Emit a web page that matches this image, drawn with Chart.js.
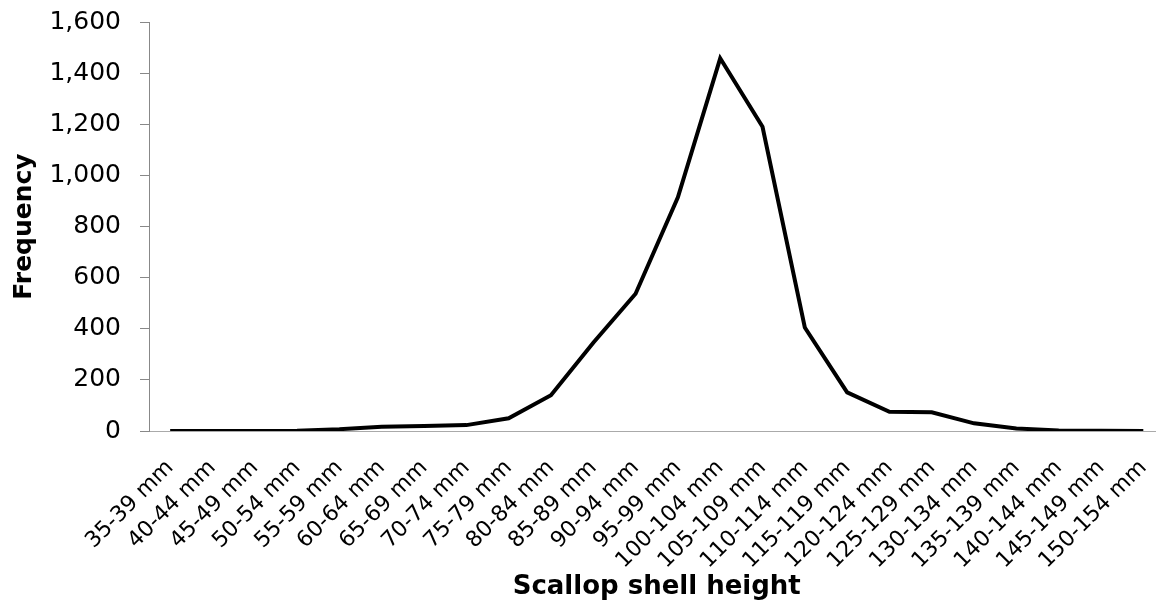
<!DOCTYPE html>
<html>
<head>
<meta charset="utf-8">
<title>Scallop shell height</title>
<script src="https://cdn.jsdelivr.net/npm/chart.js@4"></script>
<style>
    html, body { margin: 0; padding: 0; background: #fff; overflow: hidden; }
    /* canvas is a bit larger than the window, the plot bleeds off the right edge like the original */
    #wrap { width: 1186px; height: 619px; margin-top: -12px; }
</style>
</head>
<body>
<div id="wrap"><canvas id="freqChart" width="1186" height="619"></canvas></div>
<script>
// size classes (x axis)
const sizeClasses = [
    "35-39 mm", "40-44 mm", "45-49 mm", "50-54 mm", "55-59 mm", "60-64 mm",
    "65-69 mm", "70-74 mm", "75-79 mm", "80-84 mm", "85-89 mm", "90-94 mm",
    "95-99 mm", "100-104 mm", "105-109 mm", "110-114 mm", "115-119 mm", "120-124 mm",
    "125-129 mm", "130-134 mm", "135-139 mm", "140-144 mm", "145-149 mm", "150-154 mm"
];

// counts
const frequency = [
    0, 0, 0, 1, 7, 17,
    20, 23, 50, 140, 345, 537,
    914, 1458, 1190, 405, 151, 75,
    73, 30, 10, 2, 1, 0
];

const yMin = 0;
const yMax = 1600;
const yStep = 200;

const ctx = document.getElementById('freqChart').getContext('2d');
new Chart(ctx, {
    type: 'line',
    data: {
        labels: sizeClasses,
        datasets: [{
            label: 'Frequency',
            data: frequency,
            borderColor: '#000',
            borderWidth: 4,
            pointRadius: 0,
            tension: 0,
            fill: false
        }]
    },
    options: {
        responsive: false,
        devicePixelRatio: 1,
        animation: false,
        layout: { padding: { top: 9, right: 1, left: 0, bottom: 0 } },
        plugins: {
            legend: { display: false },
            tooltip: { enabled: false }
        },
        scales: {
            x: {
                offset: true,
                grid: { display: true, drawOnChartArea: false, drawTicks: false },
                border: { display: true, color: '#aaa', width: 1 },
                ticks: {
                    color: '#000',
                    autoSkip: false,
                    maxRotation: 45,
                    minRotation: 45,
                    padding: 24,
                    font: { family: 'DejaVu Sans', size: 22 }
                },
                title: {
                    display: true,
                    text: 'Scallop shell height',
                    color: '#000',
                    font: { family: 'DejaVu Sans', size: 26, weight: 'bold' },
                    padding: { top: 0, bottom: 4 }
                },
                afterFit: (scale) => { scale.height = 176; }
            },
            y: {
                min: yMin,
                max: yMax,
                grid: { drawOnChartArea: false, drawTicks: true, tickLength: 9, color: '#888' },
                border: { display: true, color: '#888', width: 1 },
                ticks: {
                    stepSize: yStep,
                    color: '#000',
                    padding: 19,
                    font: { family: 'DejaVu Sans', size: 25 },
                    callback: (v) => v.toLocaleString('en-US')
                },
                title: {
                    display: true,
                    text: 'Frequency',
                    color: '#000',
                    font: { family: 'DejaVu Sans', size: 25, weight: 'bold' },
                    padding: { top: 9, bottom: 0 }
                },
                afterFit: (scale) => { scale.width = 149; }
            }
        }
    }
});
</script>
</body>
</html>
